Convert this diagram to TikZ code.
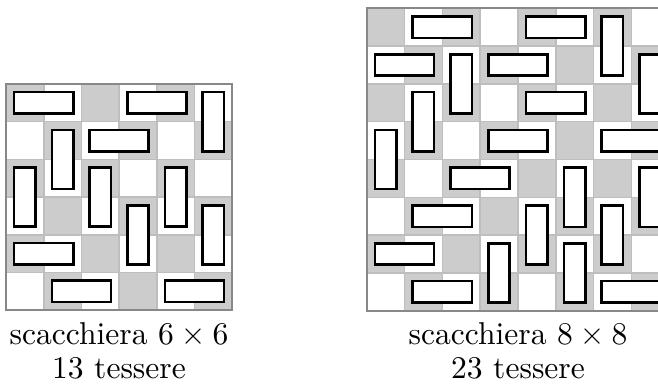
\documentclass[tikz,border=0pt]{standalone}
\usepackage{fontspec}
\setmainfont{lmroman10-regular.otf}
\definecolor{cellgray}{HTML}{CCCCCC}
\definecolor{gridgray}{HTML}{BEBEBE}
\definecolor{bordergray}{HTML}{888888}
\tikzset{
  cellfill/.style={fill=cellgray},
  gridln/.style={draw=gridgray, line width=1.6pt},
  boardborder/.style={draw=bordergray, line width=2.2pt},
  tile/.style={draw=black, fill=white, line width=2.6pt},
  caption/.style={anchor=base, inner sep=0pt, font=\fontsize{31.6}{36}\selectfont}
}
\newcommand\domH[3]{\draw[tile] ({#1+#3},{#2+#3}) rectangle ({#1+2-#3},{#2+1-#3});}
\newcommand\domV[3]{\draw[tile] ({#1+#3},{#2+#3}) rectangle ({#1+1-#3},{#2+2-#3});}
\newcommand\chessboard[1]{%
  \foreach \c in {1,...,#1} {\foreach \r in {1,...,#1} {%
    \pgfmathtruncatemacro\myparity{mod(\c+\r,2)}%
    \ifnum\myparity=0 \fill[cellfill] ({\c-1},{\r-1}) rectangle (\c,\r);\fi
  }}%
  \foreach \k in {1,...,#1} {%
    \draw[gridln] (\k,0) -- (\k,#1);
    \draw[gridln] (0,\k) -- (#1,\k);
  }%
  \draw[boardborder] (0,0) rectangle (#1,#1);
}
\begin{document}
\begin{tikzpicture}[x=1pt,y=-1pt]
\useasboundingbox (0,0) rectangle (658,385);
\clip (0,0) rectangle (658,385);
% left board 6x6
\begin{scope}[shift={(6,84)}, x=37.7pt, y=-37.7pt]
  \chessboard{6}
  \def\ins{0.2175}
  \foreach \a/\b in {0/0,3/0,2/1,0/4,1/5,4/5} {\domH{\a}{\b}{\ins}}
  \foreach \a/\b in {5/0,1/1,0/2,2/2,4/2,3/3,5/3} {\domV{\a}{\b}{\ins}}
\end{scope}
% right board 8x8
\begin{scope}[shift={(366.7,8.3)}, x=37.8pt, y=-37.8pt]
  \chessboard{8}
  \def\ins{0.217}
  \foreach \a/\b in {1/0,4/0,0/1,3/1,4/2,3/3,6/3,2/4,1/5,0/6,1/7,6/7} {\domH{\a}{\b}{\ins}}
  \foreach \a/\b in {6/0,2/1,7/1,1/2,0/3,5/4,7/4,4/5,6/5,3/6,5/6} {\domV{\a}{\b}{\ins}}
\end{scope}
\node[caption] (capLa) at (119,344.7) {scacchiera 6\hspace{0.2222em}×\hspace{0.2222em}6};
\node[caption] (capLb) at (119,378.7) {13 tessere};
\node[caption] (capRa) at (518,344.7) {scacchiera 8\hspace{0.2222em}×\hspace{0.2222em}8};
\node[caption] (capRb) at (518,378.7) {23 tessere};
\end{tikzpicture}
\end{document}
